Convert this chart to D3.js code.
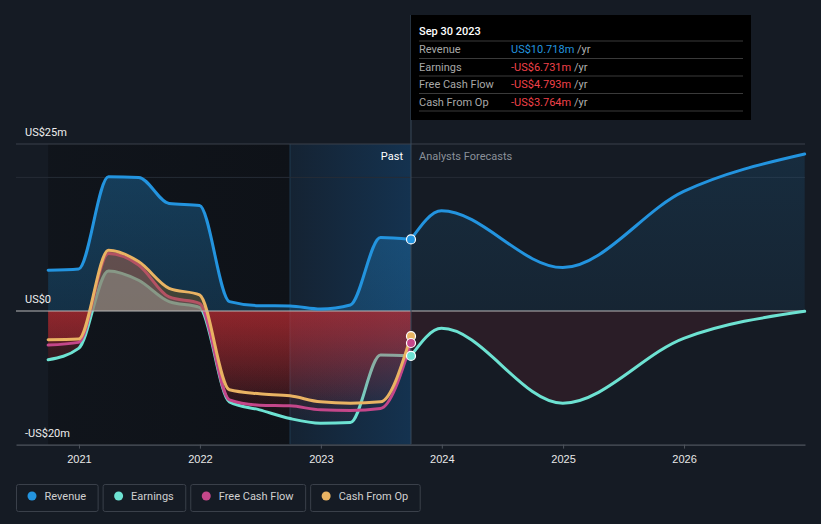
<!DOCTYPE html>
<html><head><meta charset="utf-8">
<script src="https://cdn.jsdelivr.net/npm/d3@7"></script>
<style>
html,body{margin:0;padding:0;background:#151b24;}
svg{display:block;font-family:Roboto,"Noto Sans",sans-serif;}
</style></head>
<body><svg id="c" width="821" height="524"></svg>
<script>
// ---------- data ----------
const pastDates = ["2020-09-30","2020-12-31","2021-03-31","2021-06-30","2021-09-30","2021-12-31","2022-03-31","2022-06-30","2022-09-30","2022-12-31","2023-03-31","2023-06-30","2023-09-30"];
const revenuePast  = [6.1, 6.3, 20.1, 20.0, 16.1, 15.8, 1.4, 0.8, 0.75, 0.3, 0.9, 11.0, 10.718];
const earningsPast = [-7.3, -5.6, 6.0, 4.6, 1.4, 0.55, -13.6, -14.8, -16.1, -16.8, -16.7, -6.6, -6.731];
const fcfPast      = [-5.1, -4.7, 8.6, 6.9, 2.1, 1.15, -13.3, -14.1, -14.2, -14.8, -14.9, -14.6, -4.793];
const cfoPast      = [-4.3, -4.2, 9.1, 7.4, 3.4, 2.4, -11.8, -12.4, -12.7, -13.6, -13.8, -13.6, -3.764];
const forecastDates = ["2023-09-30","2023-12-31","2024-12-31","2025-12-31","2026-12-31"];
const revenueForecast  = [10.718, 15.0, 6.5, 17.9, 23.5];
const earningsForecast = [-6.731, -2.6, -13.8, -4.1, -0.05];
const yTickValues = [25, 0, -20];
const yTickLabels = ["US$25m", "US$0", "-US$20m"];
const xTickYears = [2021, 2022, 2023, 2024, 2025, 2026];
const legendNames = ["Revenue", "Earnings", "Free Cash Flow", "Cash From Op"];
const colors = ["#2394df", "#6de2d2", "#c4478a", "#e9b363"];
const tooltipDate = "Sep 30 2023";
const tooltipValues = ["US$10.718m", "-US$6.731m", "-US$4.793m", "-US$3.764m"];

// ---------- scales ----------
const parse = d3.timeParse("%Y-%m-%d");
const svg = d3.select("#c");
const x = d3.scaleTime().domain([parse("2020-06-25"), parse("2027-01-01")]).range([16, 805]);
const y = d3.scaleLinear().domain([-20, 25]).range([444.6, 144]);
const pd = pastDates.map(parse), fd = forecastDates.map(parse);
const toPts = (dates, vals) => dates.map((d, i) => ({d, v: vals[i]}));
const xNow = x(parse("2023-09-30"));
const xBandStart = x(parse("2022-09-30"));
const xStart = x(pd[0]);

const defs = svg.append("defs");
function grad(id, stops, horiz, user) {
  const g = defs.append("linearGradient").attr("id", id);
  if (user) {
    g.attr("gradientUnits", "userSpaceOnUse").attr("x1", 0).attr("x2", 0).attr("y1", user[0]).attr("y2", user[1]);
  } else {
    g.attr("x1", 0).attr("y1", 0).attr("x2", horiz ? 1 : 0).attr("y2", horiz ? 0 : 1);
  }
  stops.forEach(s => g.append("stop").attr("offset", s[0]).attr("stop-color", s[1]).attr("stop-opacity", s[2]));
}
grad("darkPast", [[0, "#0c0f14", 0.55], [1, "#0c0f14", 0.75]], true);
grad("band", [[0, "#143a5e", 0.25], [1, "#143a5e", 0.75]], true);
grad("revFill", [[0, "#2394df", 0.32], [1, "#2394df", 0.22]]);
grad("revFillF", [[0, "#2394df", 0.14], [1, "#2394df", 0.08]]);

// clip paths
function clip(id, x0, x1, y0, y1) {
  defs.append("clipPath").attr("id", id).append("rect")
    .attr("x", x0).attr("y", y0).attr("width", x1 - x0).attr("height", y1 - y0);
}
clip("pastPos", 0, xNow, 0, y(0));
clip("pastNeg", 0, xNow, y(0), 524);
clip("fcNeg", xNow, 821, y(0), 524);

// ---------- backgrounds ----------
svg.append("rect").attr("x", xStart).attr("y", 144).attr("width", xBandStart - xStart).attr("height", 444.6 - 144).attr("fill", "url(#darkPast)");
svg.append("rect").attr("x", xBandStart).attr("y", 144).attr("width", xNow - xBandStart).attr("height", 444.6 - 144).attr("fill", "url(#band)");
svg.append("line").attr("x1", xBandStart).attr("x2", xBandStart).attr("y1", 144).attr("y2", 444).attr("stroke", "#1f3a52").attr("stroke-width", 1);

// gridlines
svg.append("line").attr("x1", 16).attr("x2", 805).attr("y1", y(25)).attr("y2", y(25)).attr("stroke", "#3b414b");
svg.append("line").attr("x1", 16).attr("x2", 805).attr("y1", y(20)).attr("y2", y(20)).attr("stroke", "#262c36");

// ---------- areas & lines ----------
const curve = d3.curveMonotoneX;
const area = d3.area().x(p => x(p.d)).y0(y(0)).y1(p => y(p.v)).curve(curve);
const line = d3.line().x(p => x(p.d)).y(p => y(p.v)).curve(curve);

const revP = toPts(pd, revenuePast), revF = toPts(fd, revenueForecast);
const earnP = toPts(pd, earningsPast), earnF = toPts(fd, earningsForecast);
const fcfP = toPts(pd, fcfPast), cfoP = toPts(pd, cfoPast);

svg.append("path").attr("d", area(revP)).attr("fill", "url(#revFill)");
svg.append("path").attr("d", area(revF)).attr("fill", "url(#revFillF)");

function drawLine(pts, c) {
  svg.append("path").attr("d", line(pts)).attr("fill", "none").attr("stroke", c).attr("stroke-width", 3).attr("stroke-linecap", "round");
}

// each cash series: translucent area (positive tinted, negative red gradient) then its line,
// so later areas veil earlier lines as in the reference
const cashSeries = [
  {pts: earnP, vals: earningsPast, pos: "#90dde0", posA: 0.5, col: colors[1], id: "negE"},
  {pts: fcfP,  vals: fcfPast,      pos: "#9e5aa0", posA: 0.35, col: colors[2], id: "negF"},
  {pts: cfoP,  vals: cfoPast,      pos: "#97671a", posA: 0.35, col: colors[3], id: "negC"}
];
cashSeries.forEach(s => {
  const mn = d3.min(s.vals);
  grad(s.id, [[0, "#cc2e34", 0.31], [1, "#cc2e34", 0.03]], false, [y(0), y(mn)]);
  svg.append("path").attr("d", area(s.pts)).attr("fill", s.pos).attr("fill-opacity", s.posA).attr("clip-path", "url(#pastPos)");
  svg.append("path").attr("d", area(s.pts)).attr("fill", "url(#" + s.id + ")").attr("clip-path", "url(#pastNeg)");
  drawLine(s.pts, s.col);
});

// forecast earnings fill
svg.append("path").attr("d", area(earnF)).attr("fill", "#b8303f").attr("fill-opacity", 0.13).attr("clip-path", "url(#fcNeg)");

// zero line
svg.append("line").attr("x1", 16).attr("x2", 805).attr("y1", y(0)).attr("y2", y(0)).attr("stroke", "#b8b8b8").attr("stroke-width", 1.2);

// revenue lines and forecast earnings line
drawLine(revP, colors[0]);
drawLine(earnF, colors[1]);
drawLine(revF, colors[0]);

// x axis
const xAxis = d3.axisBottom(x).tickValues(xTickYears.map(yr => new Date(yr, 0, 1))).tickFormat(d3.timeFormat("%Y")).tickSize(4).tickSizeOuter(0);
const gx = svg.append("g").attr("transform", "translate(0,444.6)").call(xAxis);
gx.select(".domain").attr("stroke", "#4e545d").attr("stroke-width", 1.2);
gx.selectAll(".tick line").attr("stroke", "#4e545d");
gx.selectAll(".tick text").attr("fill", "#e8e8e8").attr("font-size", 11).attr("dy", "1.05em");

// vertical "now" line
svg.append("line").attr("x1", xNow).attr("x2", xNow).attr("y1", 15).attr("y2", 444).attr("stroke", "#3a4a5c").attr("stroke-width", 1);

// dots
const dotVals = [[revenuePast, 0], [cfoPast, 3], [fcfPast, 2], [earningsPast, 1]];
dotVals.forEach(([vals, ci]) => svg.append("circle").attr("cx", xNow).attr("cy", y(vals[vals.length - 1])).attr("r", 4.5)
  .attr("fill", colors[ci]).attr("stroke", "#ffffff").attr("stroke-width", 1.2));

// y labels
yTickValues.forEach((v, i) => svg.append("text").attr("x", 25).attr("y", y(v) - 8).attr("fill", "#eeeeee").attr("font-size", 11).text(yTickLabels[i]));

// Past / forecast labels
svg.append("text").attr("x", xNow - 8).attr("y", 160).attr("text-anchor", "end").attr("fill", "#ffffff").attr("font-size", 11).text("Past");
svg.append("text").attr("x", xNow + 8).attr("y", 160).attr("fill", "#8a9099").attr("font-size", 11).text("Analysts Forecasts");

// ---------- tooltip ----------
const tt = svg.append("g");
tt.append("rect").attr("x", xNow).attr("y", 15).attr("width", 340).attr("height", 105).attr("fill", "#000000");
tt.append("text").attr("x", 419).attr("y", 35).attr("fill", "#ffffff").attr("font-size", 11).attr("font-weight", 500).text(tooltipDate);
const rowY = [49, 66.5, 84, 101.5];
[41, 58.5, 76, 93.5, 111].forEach(yy => tt.append("line").attr("x1", 419).attr("x2", 743).attr("y1", yy).attr("y2", yy).attr("stroke", "#3a3a3a"));
legendNames.forEach((n, i) => {
  tt.append("text").attr("x", 419).attr("y", rowY[i] + 4).attr("fill", "#a8a8a8").attr("font-size", 11).text(n);
  const t = tt.append("text").attr("x", 511).attr("y", rowY[i] + 4).attr("font-size", 11);
  t.append("tspan").attr("fill", i === 0 ? "#2394df" : "#f0424a").text(tooltipValues[i]);
  t.append("tspan").attr("fill", "#b0b0b0").text(" /yr");
});

// ---------- legend ----------
let lx = 16.5;
legendNames.forEach((n, i) => {
  const g = svg.append("g");
  const txt = g.append("text").attr("x", lx + 28).attr("y", 500).attr("fill", "#d0d0d0").attr("font-size", 11).text(n);
  const w = txt.node().getComputedTextLength() + 28 + 12;
  g.insert("rect", "text").attr("x", lx).attr("y", 484.5).attr("width", w).attr("height", 27).attr("rx", 2)
    .attr("fill", "none").attr("stroke", "#3a404a").attr("stroke-width", 1);
  g.append("circle").attr("cx", lx + 15.5).attr("cy", 496).attr("r", 4.5).attr("fill", colors[i]);
  lx += w + 5;
});
</script></body></html>
